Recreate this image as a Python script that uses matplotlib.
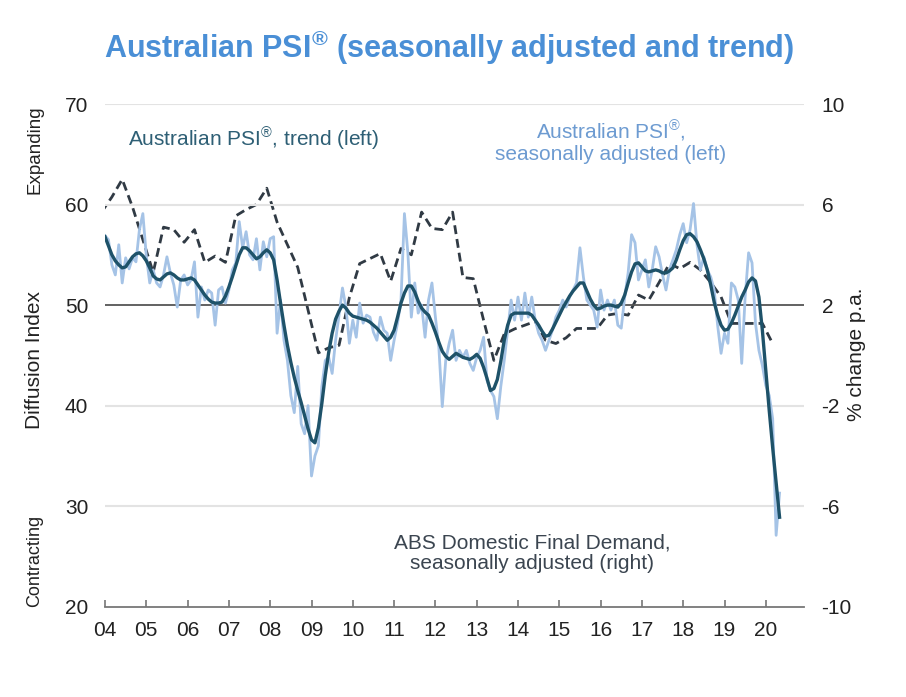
import matplotlib
matplotlib.use("Agg")
import matplotlib.pyplot as plt
import numpy as np

# ---------------- data ----------------
start_year = 2004
# Australian PSI, seasonally adjusted, monthly from Jan 2004 to May 2020
psi_sa = [
    56.9, 56.5, 54.0, 53.0, 56.0, 52.2, 54.7, 53.6, 54.7, 54.3, 57.5, 59.1,   # 2004
    54.9, 52.2, 53.5, 52.2, 51.8, 53.0, 54.8, 53.2, 52.0, 49.8, 52.5, 53.0,   # 2005
    52.0, 52.5, 54.3, 48.8, 51.8, 50.5, 51.5, 51.2, 48.0, 51.5, 51.8, 50.2,   # 2006
    51.5, 53.5, 54.2, 58.3, 55.7, 57.3, 55.0, 54.5, 56.6, 53.5, 56.3, 54.8,   # 2007
    56.6, 56.8, 47.2, 50.5, 46.5, 44.5, 41.0, 39.3, 43.9, 38.2, 37.2, 40.0,   # 2008
    33.0, 35.0, 36.0, 41.9, 44.5, 44.8, 43.2, 46.5, 49.0, 51.7, 49.8, 46.2,   # 2009
    48.5, 46.8, 50.2, 48.2, 49.0, 48.8, 47.3, 46.5, 48.8, 47.5, 47.2, 44.5,   # 2010
    46.5, 48.2, 50.5, 59.1, 55.2, 48.8, 52.2, 49.2, 50.0, 46.8, 50.5, 52.2,   # 2011
    48.8, 45.8, 39.9, 44.5, 46.2, 47.5, 44.5, 45.5, 44.8, 45.5, 44.2, 43.5,   # 2012
    44.8, 45.5, 46.8, 42.5, 41.5, 40.9, 38.7, 41.9, 44.5, 47.5, 50.5, 48.5,   # 2013
    50.8, 48.5, 51.2, 48.8, 50.8, 48.5, 47.2, 46.5, 45.5, 46.5, 47.5, 48.8,   # 2014
    49.5, 50.5, 49.8, 50.8, 51.5, 52.2, 55.7, 52.8, 50.5, 50.0, 49.5, 47.8,   # 2015
    51.5, 49.5, 50.5, 49.5, 50.5, 48.0, 47.7, 50.8, 53.2, 57.0, 56.2, 52.5,   # 2016
    53.5, 54.5, 51.8, 53.5, 55.8, 54.8, 53.0, 51.5, 53.5, 54.5, 55.5, 57.0,   # 2017
    58.1, 56.2, 57.5, 60.1, 56.0, 53.5, 54.8, 53.5, 52.8, 51.5, 48.0, 45.2,   # 2018
    47.2, 46.2, 52.2, 51.8, 50.5, 44.2, 50.8, 55.2, 54.2, 48.2, 45.5, 44.0,   # 2019
    42.0, 41.0, 38.7, 27.1, 31.3,                                             # 2020
]

# Australian PSI, trend, monthly from Jan 2004 to May 2020
psi_trend = [
    56.8, 55.9, 55.0, 54.4, 54.0, 53.7, 53.8, 54.3, 54.8, 55.1, 55.2, 54.9,   # 2004
    54.4, 53.7, 52.9, 52.6, 52.5, 52.8, 53.1, 53.2, 53.0, 52.7, 52.5, 52.5,   # 2005
    52.6, 52.7, 52.5, 52.0, 51.5, 51.0, 50.6, 50.3, 50.2, 50.2, 50.3, 50.9,   # 2006
    51.8, 52.8, 53.9, 55.0, 55.7, 55.7, 55.4, 55.0, 54.6, 54.8, 55.2, 55.5,   # 2007
    55.2, 54.5, 52.5, 50.2, 48.0, 46.0, 44.3, 42.8, 41.5, 40.3, 39.0, 37.7,   # 2008
    36.6, 36.3, 37.8, 40.2, 43.0, 45.3, 47.2, 48.6, 49.4, 50.0, 49.7, 49.2,   # 2009
    48.9, 48.8, 48.7, 48.6, 48.5, 48.3, 48.0, 47.7, 47.3, 46.9, 46.5, 46.8,   # 2010
    47.5, 48.8, 50.2, 51.2, 51.9, 51.9, 51.3, 50.4, 49.7, 49.3, 49.0, 48.2,   # 2011
    47.3, 46.3, 45.4, 44.9, 44.6, 44.9, 45.2, 45.0, 44.8, 44.7, 44.6, 44.8,   # 2012
    45.1, 44.7, 43.8, 42.7, 41.5, 41.7, 42.6, 44.4, 46.5, 48.0, 49.0, 49.2,   # 2013
    49.2, 49.2, 49.2, 49.2, 49.0, 48.5, 48.0, 47.4, 46.9, 47.0, 47.6, 48.3,   # 2014
    49.0, 49.7, 50.3, 50.9, 51.4, 51.8, 52.2, 52.2, 51.4, 50.6, 50.0, 49.6,   # 2015
    49.7, 49.9, 50.0, 50.0, 49.9, 49.8, 50.2, 51.0, 52.2, 53.3, 54.1, 54.2,   # 2016
    53.8, 53.4, 53.3, 53.4, 53.5, 53.4, 53.2, 53.2, 53.4, 53.7, 54.5, 55.5,   # 2017
    56.4, 57.0, 57.1, 56.8, 56.3, 55.5, 54.6, 53.5, 52.0, 50.3, 49.0, 48.0,   # 2018
    47.5, 47.6, 48.2, 49.0, 49.9, 50.8, 51.5, 52.3, 52.7, 52.4, 50.8, 47.5,   # 2019
    43.5, 39.5, 35.8, 32.3, 28.9,                                             # 2020
]

# ABS Domestic Final Demand, % change p.a., quarterly from Q4 2003 to Q1 2020
dfd_start = (2003, 4)
dfd = [
    5.7,                      # 2003 Q4
    6.3, 7.0, 5.9, 4.6,       # 2004
    3.3, 5.1, 5.0, 4.5,       # 2005
    5.0, 3.7, 3.95, 3.7,      # 2006
    5.55, 5.8, 6.0, 6.65,     # 2007
    5.3, 4.4, 3.5, 1.8,       # 2008
    0.1, 0.3, 0.4, 2.3,       # 2009
    3.65, 3.85, 4.05, 2.95,   # 2010
    4.25, 4.0, 5.7, 5.05,     # 2011
    5.0, 5.7, 3.1, 3.05,      # 2012
    1.4, -0.2, 0.85, 1.05,    # 2013
    1.2, 1.35, 0.6, 0.47,     # 2014
    0.7, 1.07, 1.07, 1.07,    # 2015
    1.6, 1.67, 1.6, 2.4,      # 2016
    2.2, 2.9, 3.65, 3.45,     # 2017
    3.7, 3.4, 2.9, 2.33,      # 2018
    1.27, 1.27, 1.27, 1.27,   # 2019
    0.47,                     # 2020 Q1
]

year_ticks = list(range(2004, 2021))
year_labels = [f"{y % 100:02d}" for y in year_ticks]
left_ticks = [20, 30, 40, 50, 60, 70]
right_ticks = [-10, -6, -2, 2, 6, 10]

# ---------------- x positions ----------------
t_month = start_year + np.arange(len(psi_sa)) / 12.0
t_trend = start_year + np.arange(len(psi_trend)) / 12.0
# quarterly values plotted at last month of each quarter
q_idx = np.arange(len(dfd))
q_year = dfd_start[0] + (dfd_start[1] - 1 + q_idx) // 4
q_num = (dfd_start[1] - 1 + q_idx) % 4
t_quarter = q_year + (q_num * 3 + 2) / 12.0

# ---------------- style ----------------
FONT = "Liberation Sans"
plt.rcParams["font.family"] = [FONT, "DejaVu Sans"]
plt.rcParams["axes.unicode_minus"] = False
plt.rcParams["mathtext.fontset"] = "custom"
plt.rcParams["mathtext.rm"] = FONT
plt.rcParams["mathtext.bf"] = FONT + ":bold"
plt.rcParams["mathtext.it"] = FONT + ":italic"

W, H = 906, 697
fig = plt.figure(figsize=(W / 100, H / 100), dpi=100)
fig.patch.set_facecolor("white")

def fx(px):
    return px / W

def fy(py):
    return 1 - py / H

ax_l, ax_r_px, ax_t, ax_b = 105, 803.5, 104, 606.7
ax = fig.add_axes([fx(ax_l), fy(ax_b), fx(ax_r_px) - fx(ax_l), fy(ax_t) - fy(ax_b)])
ax2 = ax.twinx()

c_sa = "#a5c3e6"
c_trend = "#1e5269"
c_dfd = "#303a44"
c_grid = "#e3e3e3"
c_text = "#222222"

ax.set_xlim(2004, 2004 + (ax_r_px - ax_l) / 41.3)
ax.set_ylim(20, 70)
ax2.set_ylim(-10, 10)

for v in [30, 40, 60, 70]:
    ax.axhline(v, color=c_grid, lw=1.5, zorder=0)
ax.axhline(50, color="#555555", lw=1.3, zorder=1)

ax.plot(t_month, psi_sa, color=c_sa, lw=2.0, zorder=2)
ax.plot(t_trend, psi_trend, color=c_trend, lw=2.4, zorder=4)
ax2.plot(t_quarter, dfd, color=c_dfd, lw=2.0, ls=(0, (3.2, 1.8)), zorder=3)

ax.set_zorder(ax2.get_zorder() + 1)
ax.patch.set_visible(False)

for a in (ax, ax2):
    for s in ["top", "left", "right", "bottom"]:
        a.spines[s].set_visible(False)

ax.spines["bottom"].set_visible(True)
ax.spines["bottom"].set_color("#777777")
ax.spines["bottom"].set_linewidth(1.3)

ax.set_xticks(year_ticks)
ax.set_xticklabels(year_labels)
ax.tick_params(axis="x", direction="in", length=5, width=1.2, color="#777777",
               labelsize=15, pad=10, labelcolor=c_text)
ax.set_yticks(left_ticks)
ax.tick_params(axis="y", length=0, labelsize=15, pad=12, labelcolor=c_text)
ax2.set_yticks(right_ticks)
ax2.tick_params(axis="y", length=0, labelsize=15, pad=13, labelcolor=c_text)

# axis labels
fig.text(fx(35), fy(360), "Diffusion Index", rotation=90, ha="center", va="center",
         fontsize=15, color=c_text)
fig.text(fx(35), fy(150), "Expanding", rotation=90, ha="center", va="center",
         fontsize=13.5, color=c_text)
fig.text(fx(35), fy(561), "Contracting", rotation=90, ha="center", va="center",
         fontsize=13, color=c_text)
fig.text(fx(857), fy(354), "% change p.a.", rotation=90, ha="center", va="center",
         fontsize=15, color=c_text)

# title
fig.text(fx(449), fy(48), "Australian PSI$^{\\mathbf{\u00ae}}$ (seasonally adjusted and trend)",
         ha="center", va="center", fontsize=22, fontweight="bold", color="#4a8fd6")

# annotations
REG = "$^{\\mathrm{\u00ae}}$"
fig.text(fx(254), fy(139), "Australian PSI" + REG + ", trend (left)", ha="center",
         va="center", fontsize=15, color="#2e5f75")
fig.text(fx(611), fy(131), "Australian PSI" + REG + ",", ha="center",
         va="center", fontsize=15, color="#6d9bd1")
fig.text(fx(611), fy(154), "seasonally adjusted (left)", ha="center",
         va="center", fontsize=15, color="#6d9bd1")
fig.text(fx(532), fy(553), "ABS Domestic Final Demand,\nseasonally adjusted (right)",
         ha="center", va="center", fontsize=15, color="#3b4550", linespacing=1.1)

fig.savefig("out.png", dpi=100, facecolor="white")
